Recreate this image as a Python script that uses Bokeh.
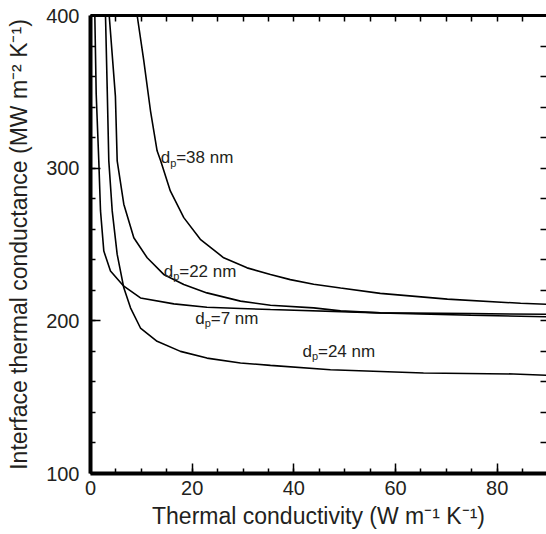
from bokeh.plotting import figure
from bokeh.models import LinearAxis, FixedTicker, ColumnDataSource
from bokeh.core.properties import value
from bokeh.embed import file_html
from bokeh.resources import INLINE

# ---- data ----
x_d7 = [0.85, 1.12, 1.63, 1.97, 2.62, 3.93, 6.55, 9.83, 16.4, 22.9, 29.5, 35.4, 57.0, 74.8, 89.7]
y_d7 = [400, 348.8, 304.8, 272.0, 245.7, 232.6, 222.7, 215.0, 211.1, 208.9, 208.1, 207.4, 205.2, 204.7, 204.3]

x_d24 = [2.95, 3.3, 3.6, 4.27, 5.25, 6.55, 7.87, 9.83, 13.1, 17.7, 22.9, 29.5, 35.4, 47.2, 65.5, 83.2, 89.7]
y_d24 = [400, 350, 304.8, 272.0, 243.5, 221.6, 208.5, 195.3, 186.6, 180.0, 175.6, 172.4, 170.8, 168.0, 165.8, 165.2, 164.3]

x_d22 = [3.68, 4.9, 5.25, 6.55, 8.52, 11.15, 14.4, 18.35, 22.9, 29.5, 35.4, 43.9, 49.2, 57.0, 74.8, 89.7]
y_d22 = [400, 347, 304.8, 276.4, 254.4, 241.3, 230.4, 223.8, 218.3, 212.9, 210.2, 208.5, 206.5, 205.2, 203.7, 202.7]

x_d38 = [9.18, 10.48, 11.8, 13.1, 13.8, 15.7, 18.35, 21.6, 26.2, 30.8, 35.4, 39.3, 43.9, 49.2, 57.0, 70.2, 84.6, 89.8]
y_d38 = [400, 370.5, 337.6, 311.4, 304.8, 285.1, 267.6, 253.4, 241.3, 234.7, 230.4, 227.0, 224.0, 221.5, 218.0, 214.2, 211.5, 210.8]

label_x = [13.8, 14.4, 20.6, 41.7]
label_y = [306.8, 232.6, 201.7, 180.0]
label_rest = ["=38 nm", "=22 nm", "=7 nm", "=24 nm"]

x_major = [0, 20, 40, 60, 80]
x_minor = list(range(0, 95, 5))
y_major = [100, 200, 300, 400]
y_minor = list(range(100, 401, 20))

FONT = "Liberation Sans"
TXT = "#231f20"

p = figure(width=546, height=534, x_range=(0, 89.7), y_range=(100, 400),
           output_backend="svg", toolbar_location=None,
           min_border_left=90, min_border_top=15, min_border_right=0, min_border_bottom=61)
p.grid.visible = False
p.outline_line_color = None
p.background_fill_color = "white"

for xs, ys in [(x_d7, y_d7), (x_d24, y_d24), (x_d22, y_d22), (x_d38, y_d38)]:
    p.line(xs, ys, line_color="black", line_width=1.6)

src = ColumnDataSource(dict(x=label_x, y=label_y, d=["d"] * 4, s=["p"] * 4, r=label_rest))
p.text("x", "y", text="d", source=src, text_font=value(FONT), text_font_size="17px",
       text_baseline="middle", text_align="left", text_color=TXT)
p.text("x", "y", text="s", source=src, text_font=value(FONT), text_font_size="11px",
       text_baseline="middle", text_align="left", text_color=TXT, x_offset=9.5, y_offset=5)
p.text("x", "y", text="r", source=src, text_font=value(FONT), text_font_size="17px",
       text_baseline="middle", text_align="left", text_color=TXT, x_offset=15.5)

bottom = p.below[0]
left = p.left[0]
bottom.ticker = FixedTicker(ticks=x_major, minor_ticks=x_minor)
left.ticker = FixedTicker(ticks=y_major, minor_ticks=y_minor)

top = LinearAxis(ticker=FixedTicker(ticks=[], minor_ticks=x_minor))
right = LinearAxis(ticker=FixedTicker(ticks=[], minor_ticks=y_minor))
p.add_layout(top, "above")
p.add_layout(right, "right")

for ax in [bottom, left, top, right]:
    ax.major_tick_in = 10
    ax.major_tick_out = 0
    ax.minor_tick_in = 5
    ax.minor_tick_out = 0
    ax.major_tick_line_width = 1.5
    ax.minor_tick_line_width = 1.5
    ax.major_tick_line_color = "black"
    ax.minor_tick_line_color = "black"
    ax.axis_line_color = "black"
    ax.major_label_text_font = FONT
    ax.major_label_text_color = TXT
    ax.axis_label_text_font = FONT
    ax.axis_label_text_color = TXT
    ax.axis_label_text_font_style = "normal"

for ax in [bottom, left]:
    ax.axis_line_width = 4
    ax.major_label_text_font_size = "20px"
    ax.axis_label_text_font_size = "23px"

bottom.axis_label = "Thermal conductivity (W m\u207b\u00b9 K\u207b\u00b9)"
left.axis_label = "Interface thermal conductance (MW m\u207b\u00b2 K\u207b\u00b9)"
bottom.major_label_standoff = 7
bottom.axis_label_standoff = 5
left.major_label_standoff = 11
left.axis_label_standoff = 11

for ax in [top, right]:
    ax.minor_tick_in = 6
    ax.major_label_standoff = 0
    ax.axis_label_standoff = 0
top.axis_line_width = 3
right.axis_line_color = None

open("out.html", "w").write(file_html(p, INLINE))
